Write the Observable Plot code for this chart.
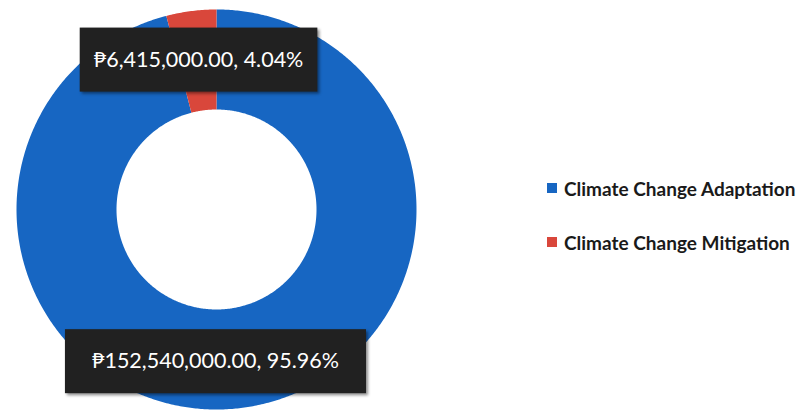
<!DOCTYPE html>
<html>
<head>
<meta charset="utf-8">
<script src="https://cdn.jsdelivr.net/npm/d3@7"></script>
<script src="https://cdn.jsdelivr.net/npm/@observablehq/plot@0.6"></script>
<style>
  html, body { margin: 0; padding: 0; background: #fff; }
  #wrap { position: relative; width: 807px; height: 412px; overflow: hidden; }
  #legend { position: absolute; left: 547px; top: 176px; font-family: Lato, "Open Sans", sans-serif; font-weight: 700; font-size: 19px; color: #1a1a1a; }
  .item { display: flex; align-items: center; height: 24px; margin-bottom: 30px; }
  .sw { width: 10px; height: 10px; margin-right: 7px; }
</style>
</head>
<body>
<div id="wrap"></div>
<script>
const categories = ["Climate Change Adaptation", "Climate Change Mitigation"];
const amounts = [152540000, 6415000];
const colors = ["#1766c2", "#d9473b"];
const labelPadX = [27, 14];
const labelDx = [-20, 1];
const labelDy = [3, -1];

const total = d3.sum(amounts);
const arcs = d3.pie().sort(null)(amounts);
const inner = 0.5, outer = 1;

const pts = [];
arcs.forEach((a, i) => {
  const n = Math.max(2, Math.ceil((a.endAngle - a.startAngle) / (Math.PI / 360)));
  const angs = d3.range(n + 1).map(k => a.startAngle + (a.endAngle - a.startAngle) * k / n);
  angs.forEach(t => pts.push({cat: categories[i], x: outer * Math.sin(t), y: outer * Math.cos(t)}));
  angs.slice().reverse().forEach(t => pts.push({cat: categories[i], x: inner * Math.sin(t), y: inner * Math.cos(t)}));
});

const fmt = d3.format(",.2f");
const labels = arcs.map((a, i) => {
  const m = (a.startAngle + a.endAngle) / 2, r = (inner + outer) / 2;
  return {i, cat: categories[i], x: r * Math.sin(m), y: r * Math.cos(m),
    text: "₱" + fmt(amounts[i]) + ", " + (amounts[i] / total * 100).toFixed(2) + "%"};
});

const plot = Plot.plot({
  width: 807, height: 412,
  marginLeft: 16, marginRight: 391, marginTop: 9, marginBottom: 3,
  x: {domain: [-1, 1], axis: null},
  y: {domain: [-1, 1], axis: null},
  color: {domain: categories, range: colors},
  style: {background: "white"},
  marks: [
    Plot.line(pts, {x: "x", y: "y", z: "cat", fill: "cat", stroke: "none", curve: "linear-closed"}),
    ...labels.map(l => Plot.text([l], {x: "x", y: "y", text: "text", fill: "white",
      fontSize: 21.5, fontFamily: "Lato, 'Open Sans', sans-serif",
      dx: labelDx[l.i], dy: labelDy[l.i]}))
  ]
});
const wrap = document.getElementById("wrap");
wrap.appendChild(plot);

const SVGNS = "http://www.w3.org/2000/svg";
labels.forEach(l => {
  const t = Array.from(plot.querySelectorAll("text")).find(e => e.textContent === l.text);
  if (!t) return;
  const b = t.getBBox();
  const h = 64;
  const cy = b.y + b.height / 2 + 1;
  const rect = document.createElementNS(SVGNS, "rect");
  rect.setAttribute("x", b.x - labelPadX[l.i]);
  rect.setAttribute("y", cy - h / 2);
  rect.setAttribute("width", b.width + 2 * labelPadX[l.i]);
  rect.setAttribute("height", h);
  rect.setAttribute("fill", "#212121");
  rect.setAttribute("style", "filter: drop-shadow(2px 2px 1.5px rgba(0,0,0,0.45))");
  const tr = t.getAttribute("transform");
  if (tr) rect.setAttribute("transform", tr);
  t.parentNode.insertBefore(rect, t);
});

const legend = document.createElement("div");
legend.id = "legend";
categories.forEach((c, i) => {
  const it = document.createElement("div");
  it.className = "item";
  it.innerHTML = `<span class="sw" style="background:${colors[i]}"></span><span>${c}</span>`;
  legend.appendChild(it);
});
wrap.appendChild(legend);
</script>
</body>
</html>
